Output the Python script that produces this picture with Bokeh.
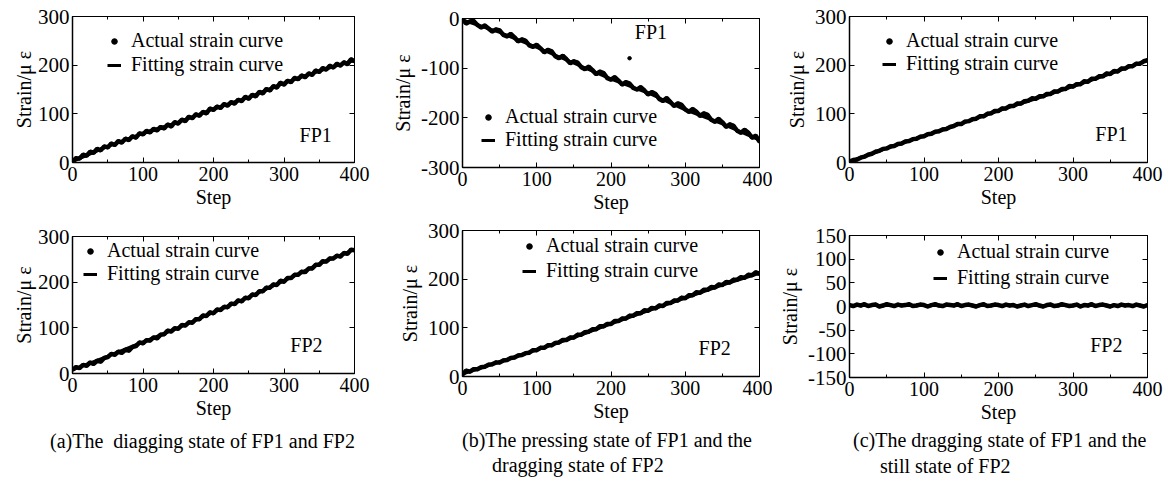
from bokeh.plotting import figure
from bokeh.models import (Range1d, SingleIntervalTicker, LinearAxis, Legend,
                          LegendItem, Label, Div)
from bokeh.layouts import row, column
from bokeh.embed import file_html
from bokeh.resources import INLINE

FONT = "Liberation Serif"

# ---------------- data ----------------
STEP = list(range(0, 401, 5))          # sample steps of the actual curves
FIT_STEP = list(range(0, 401, 50))     # knots of the fitting curves

A1_ACTUAL = [2, 9, 8, 16, 14, 22, 20, 28, 25, 33,
             31, 39, 36, 44, 41, 49, 46, 54, 51, 60,
             58, 65, 62, 69, 66, 73, 70, 78, 74, 83,
             80, 88, 85, 94, 91, 99, 96, 104, 101, 111,
             108, 115, 112, 120, 117, 124, 121, 129, 126, 135,
             131, 139, 136, 145, 142, 151, 148, 157, 154, 164,
             160, 168, 165, 174, 171, 179, 175, 183, 180, 189,
             186, 194, 191, 199, 195, 203, 199, 206, 202, 212,
             208]
A1_FIT = [2, 33, 60, 83, 110, 134, 163, 188, 210]

A2_ACTUAL = [8, 14, 12, 19, 17, 24, 21, 28, 26, 34,
             36, 43, 41, 48, 45, 52, 50, 58, 60, 68,
             66, 73, 72, 79, 77, 85, 86, 94, 92, 99,
             98, 106, 105, 112, 111, 119, 119, 127, 126, 134,
             132, 140, 139, 146, 145, 153, 152, 160, 158, 166,
             165, 173, 172, 180, 180, 188, 188, 195, 194, 203,
             201, 209, 209, 216, 216, 223, 222, 230, 230, 238,
             238, 246, 245, 252, 252, 258, 256, 264, 262, 271,
             270]
A2_FIT = [8, 38, 69, 100, 134, 167, 203, 240, 272]

B1_ACTUAL = [-2, -10, -6, -5, -13, -18, -14, -20, -26, -22,
             -24, -33, -36, -31, -38, -46, -42, -45, -54, -57,
             -53, -60, -68, -63, -66, -76, -80, -75, -82, -90,
             -86, -89, -98, -102, -97, -104, -112, -107, -110, -120,
             -123, -118, -125, -133, -128, -131, -140, -143, -138, -145,
             -153, -148, -152, -162, -166, -160, -168, -176, -171, -174,
             -183, -188, -182, -188, -196, -191, -194, -204, -208, -202,
             -209, -218, -213, -216, -226, -230, -224, -230, -240, -236,
             -248]
B1_FIT = [-3, -28, -58, -90, -122, -150, -184, -212, -245]
B1_OUT_STEP = [225]
B1_OUT = [-80]

B2_ACTUAL = [4, 12, 10, 15, 15, 19, 20, 24, 25, 29,
             29, 33, 34, 38, 39, 43, 44, 48, 49, 54,
             54, 59, 59, 64, 64, 69, 70, 75, 75, 80,
             80, 86, 86, 91, 92, 97, 97, 103, 103, 108,
             108, 114, 114, 119, 119, 125, 125, 130, 130, 136,
             135, 141, 140, 146, 145, 151, 151, 156, 156, 162,
             161, 167, 167, 173, 172, 178, 178, 184, 183, 189,
             188, 194, 193, 199, 199, 204, 203, 209, 208, 214,
             211]
B2_FIT = [5, 30, 55, 80, 108, 135, 161, 188, 212]

C1_ACTUAL = [2, 5, 6, 10, 12, 16, 18, 22, 24, 28,
             29, 33, 34, 38, 39, 43, 44, 48, 49, 53,
             54, 58, 59, 63, 64, 68, 69, 73, 75, 79,
             79, 84, 85, 89, 90, 95, 95, 100, 101, 106,
             106, 111, 111, 116, 116, 121, 121, 126, 127, 132,
             131, 136, 136, 141, 141, 146, 146, 151, 151, 157,
             156, 161, 161, 167, 166, 172, 172, 177, 177, 183,
             182, 188, 187, 193, 193, 198, 198, 203, 203, 208,
             210]
C1_FIT = [2, 29, 55, 80, 106, 131, 156, 182, 210]

C2_ACTUAL = [3, 1, 4, 2, 5, 1, 3, 4, 0, 2,
             5, 3, 1, 4, 2, 3, 5, 1, 2, 4,
             3, 0, 3, 5, 2, 1, 4, 3, 2, 5,
             1, 3, 4, 2, 0, 3, 5, 1, 2, 4,
             3, 1, 4, 2, 3, 0, 2, 4, 1, 3,
             5, 2, 0, 3, 4, 1, 2, 5, 3, 1,
             2, 4, 0, 3, 2, 5, 1, 3, 4, 2,
             0, 3, 1, 4, 2, 3, 1, 4, 2, 0,
             3]
C2_FIT = [2, 2, 2, 2, 2, 2, 2, 2, 2]

# y tick values per panel (labels written with a plain hyphen, as in the scan)
Y_TICKS_POS = [0, 100, 200, 300]
Y_TICKS_NEG = [-300, -200, -100, 0]
Y_TICKS_SYM = [-150, -100, -50, 0, 50, 100, 150]

LEGEND_LABELS = ["Actual strain curve", "Fitting strain curve"]
CAPTION_A = ["(a)The&nbsp; diagging state of FP1 and FP2"]
CAPTION_B = ["(b)The pressing state of FP1 and the", "dragging state of FP2"]
CAPTION_C = ["(c)The dragging state of FP1 and the", "still state of FP2"]


def style_axis(ax, ticker, labels=True, main=True, size="20px"):
    ax.ticker = ticker
    ax.axis_line_color = "black"
    ax.axis_line_width = 1.5 if main else 1
    ax.major_tick_line_color = "black"
    ax.minor_tick_line_color = "black"
    ax.major_tick_in = 5
    ax.major_tick_out = 0
    ax.minor_tick_in = 3
    ax.minor_tick_out = 0
    if labels:
        ax.major_label_text_font = FONT
        ax.major_label_text_font_size = size
        ax.major_label_text_color = "black"
        ax.axis_label_text_font = FONT
        ax.axis_label_text_font_size = "20px"
        ax.axis_label_text_font_style = "normal"
        ax.axis_label_text_color = "black"
    else:
        ax.major_label_text_font_size = "1px"
        ax.major_label_text_color = None
        ax.major_label_standoff = 0
        ax.axis_label = None


def panel(width, height, bl, br, bt, bb, yr, yint, yminor, yticks, actual, fit,
          fp, fp_xy, leg_loc, leg_spacing, ylab_standoff, out=None):
    p = figure(width=width, height=height,
               x_range=Range1d(0, 400), y_range=Range1d(*yr),
               output_backend="svg", toolbar_location=None,
               min_border_left=bl, min_border_right=br,
               min_border_top=bt, min_border_bottom=bb,
               x_axis_label="Step", y_axis_label="Strain/μ ε")
    p.xgrid.visible = False
    p.ygrid.visible = False
    p.outline_line_color = "black"
    p.outline_line_width = 1
    p.outline_line_alpha = 1
    p.background_fill_color = "white"
    p.border_fill_color = "white"

    style_axis(p.xaxis[0], SingleIntervalTicker(interval=100, num_minor_ticks=2), size="20px")
    style_axis(p.yaxis[0], SingleIntervalTicker(interval=yint, num_minor_ticks=yminor), size="21px")
    p.xaxis[0].major_label_standoff = 4
    p.xaxis[0].axis_label_standoff = 2
    p.yaxis[0].major_label_standoff = 3
    p.yaxis[0].axis_label_standoff = ylab_standoff
    p.yaxis[0].major_label_overrides = {v: str(v) for v in yticks}

    top = LinearAxis()
    style_axis(top, SingleIntervalTicker(interval=100, num_minor_ticks=2), labels=False, main=False)
    p.add_layout(top, "above")
    right = LinearAxis()
    style_axis(right, SingleIntervalTicker(interval=yint, num_minor_ticks=yminor), labels=False, main=False)
    p.add_layout(right, "right")

    p.line(STEP, actual, line_color="black", line_width=4.5)
    sr = p.scatter(STEP, actual, size=3, color="black")
    fr = p.line(FIT_STEP, fit, line_color="black", line_width=3)
    if out is not None:
        p.scatter(out[0], out[1], size=3.5, color="black")

    leg = Legend(items=[LegendItem(label=LEGEND_LABELS[0], renderers=[sr]),
                        LegendItem(label=LEGEND_LABELS[1], renderers=[fr])],
                 location=leg_loc)
    leg.background_fill_alpha = 0
    leg.border_line_color = None
    leg.padding = 0
    leg.margin = 0
    leg.spacing = leg_spacing
    leg.label_height = 22
    leg.glyph_height = 22
    leg.glyph_width = 14
    leg.label_standoff = 10
    leg.label_text_font = FONT
    leg.label_text_font_size = "20px"
    leg.label_text_color = "black"
    leg.label_text_baseline = "middle"
    p.add_layout(leg)

    p.add_layout(Label(x=fp_xy[0], y=fp_xy[1], text=fp, text_font=FONT,
                       text_font_size="20px", text_color="black",
                       text_baseline="middle", text_align="left"))
    return p


def caption(lines, pads, width, height, top_pad, lh):
    inner = "".join(
        f'<div style="padding-left:{pd}px;white-space:nowrap;">{t}</div>'
        for t, pd in zip(lines, pads))
    html = (f'<div style="width:{width}px;height:{height}px;overflow:hidden;'
            f'font-family:\'{FONT}\';font-size:20px;line-height:{lh}px;color:black;'
            f'padding-top:{top_pad}px;box-sizing:border-box;">{inner}</div>')
    return Div(text=html, width=width, height=height, margin=0)


# column a: x 0..386
a1 = panel(386, 215, 68, 32, 16, 53, (0, 300), 100, 1, Y_TICKS_POS, A1_ACTUAL, A1_FIT,
           "FP1", (322, 56), (35, 86), 1, 0)
a2 = panel(386, 208, 72, 29, 21, 50, (0, 300), 100, 1, Y_TICKS_POS, A2_ACTUAL, A2_FIT,
           "FP2", (309, 63), (11, 88), 0, 0)
# column b: x 386..772
b1 = panel(386, 217, 76, 12, 18, 50, (-300, 0), 100, 1, Y_TICKS_NEG, B1_ACTUAL, B1_FIT,
           "FP1", (232, -28), (19, 16), 0, 4, out=(B1_OUT_STEP, B1_OUT))
b2 = panel(386, 209, 72, 13, 13, 50, (0, 300), 100, 1, Y_TICKS_POS, B2_ACTUAL, B2_FIT,
           "FP2", (318, 58), (60, 94), 2, 4)
# column c: x 772..1164
c1 = panel(392, 215, 76, 14, 16, 53, (0, 300), 100, 1, Y_TICKS_POS, C1_ACTUAL, C1_FIT,
           "FP1", (330, 58), (33, 87), 0, 4)
c2 = panel(392, 212, 77, 17, 20, 50, (-150, 150), 50, 0, Y_TICKS_SYM, C2_ACTUAL, C2_FIT,
           "FP2", (323, -82), (84, 88), 3, 4)

capA = caption(CAPTION_A, [50], 386, 59, 6, 25)
capB = caption(CAPTION_B, [76, 106], 386, 56, 2, 25)
capC = caption(CAPTION_C, [81, 108], 392, 55, 0, 26)

layout = row(column(a1, a2, capA, spacing=0),
             column(b1, b2, capB, spacing=0),
             column(c1, c2, capC, spacing=0), spacing=0)

open("out.html", "w").write(file_html(layout, INLINE))
